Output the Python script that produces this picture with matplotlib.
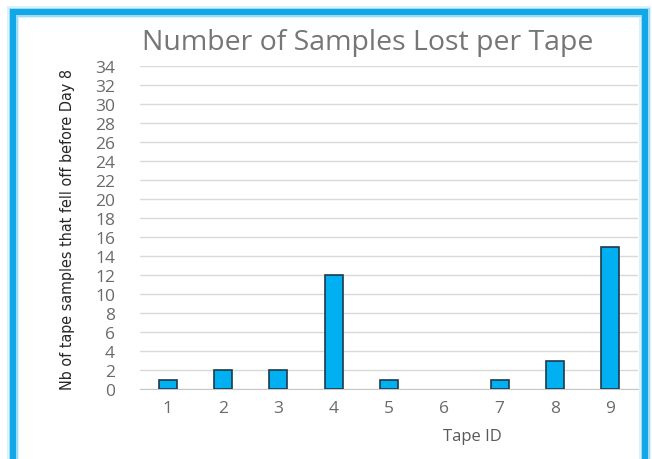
import matplotlib
matplotlib.use("Agg")
import matplotlib.pyplot as plt
from matplotlib.patches import Rectangle

# data
tape_ids = ["1", "2", "3", "4", "5", "6", "7", "8", "9"]
samples_lost = [1, 2, 2, 12, 1, 0, 1, 3, 15]
y_ticks = list(range(0, 35, 2))

W, H = 652, 460
fig = plt.figure(figsize=(W / 100, H / 100), dpi=100)
fig.patch.set_facecolor("white")

# blue frame with a soft glow
for lw, a in [(12, 0.15), (9, 0.3), (6, 1.0)]:
    fig.patches.append(Rectangle((13 / W, -0.05), (645 - 13) / W, 1.05 - 13 / H,
                                 transform=fig.transFigure, fill=False,
                                 ec="#12A8E8", lw=lw * 0.72, alpha=a, zorder=0))

ax = fig.add_axes([140 / W, 1 - 390 / H, (638 - 140) / W, (390 - 67) / H])
x = list(range(len(tape_ids)))
# no outline on empty bars
edges = ["#1E3A4C" if v > 0 else "none" for v in samples_lost]
ax.bar(x, samples_lost, width=0.33, color="#00B0F0", edgecolor=edges,
       linewidth=1.2, zorder=3)

ax.set_xlim(-0.5, len(tape_ids) - 0.5)
ax.set_ylim(0, 34)
ax.set_yticks(y_ticks)
ax.set_xticks(x)
ax.set_xticklabels(tape_ids)
ax.grid(axis="y", color="#D9D9D9", lw=1, zorder=0)
for s in ["top", "right", "left"]:
    ax.spines[s].set_visible(False)
ax.spines["bottom"].set_color("#C8C8C8")
ax.tick_params(length=0, labelsize=12.5, colors="#6A6A6A", pad=8)
ax.tick_params(axis="y", pad=18)
for lab in ax.get_xticklabels() + ax.get_yticklabels():
    lab.set_fontfamily("Open Sans")

fig.text(368 / W, 1 - 43 / H, "Number of Samples Lost per Tape", ha="center",
         va="center", fontsize=20.5, color="#767676", family="Open Sans")
fig.text(472 / W, 1 - 437 / H, "Tape ID", ha="center", va="center",
         fontsize=12, color="#595959", family="Open Sans")
fig.text(68 / W, 1 - 230 / H, "Nb of tape samples that fell off before Day 8",
         rotation=90, ha="center", va="center", fontsize=11.5, color="#262626",
         family="DejaVu Sans", fontstretch="condensed")

fig.savefig("out.png", dpi=100)
